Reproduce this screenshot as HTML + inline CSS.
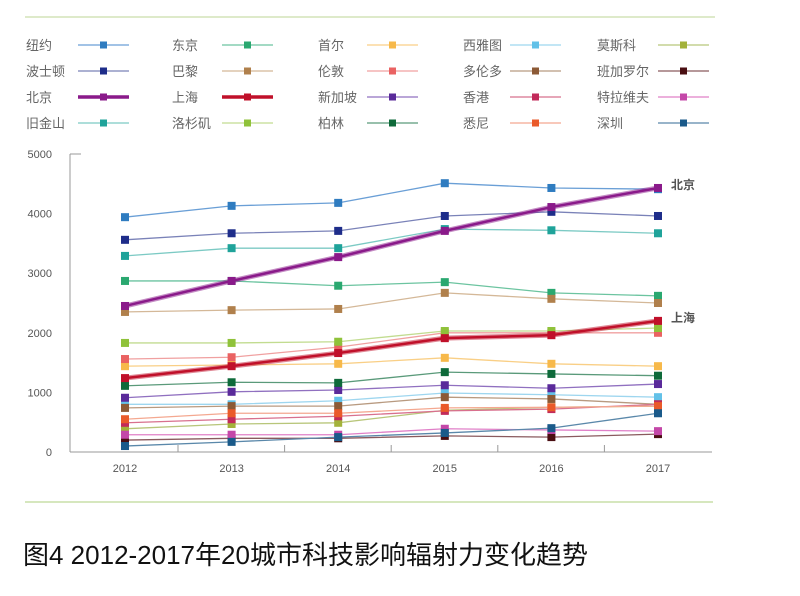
<!DOCTYPE html>
<html><head><meta charset="utf-8"><style>
body{margin:0;background:#fff;width:800px;height:596px;overflow:hidden;font-family:"Liberation Sans","Noto Sans CJK SC",sans-serif}
</style></head><body>
<svg width="800" height="596" style="position:absolute;left:0;top:0">
<line x1="25" y1="17" x2="715" y2="17" stroke="#d4e3b8" stroke-width="1.5"/>
<line x1="25" y1="502" x2="713" y2="502" stroke="#c8dfa8" stroke-width="1.5"/>
<g id="legend"></g>
<g id="axes"></g>
<g id="series"></g>
<text x="23" y="564" font-size="26" fill="#111" font-family="Liberation Sans, Noto Sans CJK SC, sans-serif">图4 2012-2017年20城市科技影响辐射力变化趋势</text>
</svg>
<script>
const years=["2012","2013","2014","2015","2016","2017"];
const yTicks=[0,1000,2000,3000,4000,5000];
const names=["纽约","东京","首尔","西雅图","莫斯科","波士顿","巴黎","伦敦","多伦多","班加罗尔","北京","上海","新加坡","香港","特拉维夫","旧金山","洛杉矶","柏林","悉尼","深圳"];
const colors=["#2f7cc0","#2aa870","#f7b94a","#62c1e8","#a3b23a","#1e2d8a","#b0804c","#ea6262","#8c5a36","#4a0e12","#8a1a8a","#c0102a","#5a2a9a","#c22a5a","#c447a8","#1fa39a","#8fc23a","#0e6a3a","#ea5a2a","#1a5a8a"];
const lineColors=["#6a9fd6","#6cc4a0","#f9cf86","#9ed6ef","#b8c67a","#7a82b8","#d4b898","#f0a0a0","#b89a80","#8a5a5e","#8a1a8a","#c0102a","#9070c0","#d8708e","#e080c8","#7ccac4","#c2dc90","#5a9a7a","#f4a890","#5a88aa"];
const v0=[3940,2870,1440,800,390,3560,2350,1560,740,200,2450,1240,910,490,290,3290,1830,1110,550,100];
const v1=[4130,2870,1460,800,470,3670,2380,1590,770,230,2870,1440,1010,550,290,3420,1830,1170,650,170];
const v2=[4180,2790,1480,860,490,3710,2400,1760,770,230,3270,1660,1040,600,290,3420,1850,1160,650,250];
const v3=[4510,2850,1580,990,700,3960,2670,2000,920,270,3710,1910,1120,690,390,3740,2030,1340,740,320];
const v4=[4430,2670,1480,960,750,4030,2570,2000,890,250,4110,1960,1070,720,370,3720,2030,1310,750,400];
const v5=[4410,2620,1440,920,770,3960,2500,2000,800,300,4430,2200,1140,800,350,3670,2080,1280,770,650];
const NS="http://www.w3.org/2000/svg";
function mk(t,a,p){const e=document.createElementNS(NS,t);for(const k in a)e.setAttribute(k,a[k]);p.appendChild(e);return e;}
const X=i=>125+i*106.6, Y=v=>452-v*0.0596;
const ax=document.getElementById('axes'),sr=document.getElementById('series'),lg=document.getElementById('legend');
let a=mk('line',{x1:70,y1:154,x2:70,y2:452,stroke:'#999','stroke-width':1},ax);


a=mk('line',{x1:70,y1:452,x2:712,y2:452,stroke:'#999','stroke-width':1},ax);


mk('line',{x1:70,y1:154,x2:81,y2:154,stroke:'#999'},ax);
yTicks.forEach(t=>{const e=mk('text',{x:52,y:Y(t)+4,'text-anchor':'end','font-size':11,fill:'#555'},ax);e.textContent=t;

});
years.forEach((y,i)=>{const e=mk('text',{x:X(i),y:472,'text-anchor':'middle','font-size':11,fill:'#555'},ax);e.textContent=y;


if(i<5)mk('line',{x1:X(i)+53,y1:452,x2:X(i)+53,y2:445,stroke:'#999'},ax);});
const vals=[v0,v1,v2,v3,v4,v5];
const order=[...Array(20).keys()].filter(i=>i!=10&&i!=11).concat([11,10]);
order.forEach(s=>{const thick=(s==10||s==11);
const pts=vals.map((v,i)=>X(i)+','+Y(v[s])).join(' ');
if(thick){const h=mk('polyline',{points:pts,fill:'none',stroke:lineColors[s],'stroke-width':5,opacity:0.5},sr);

}
const l=mk('polyline',{points:pts,fill:'none',stroke:thick?colors[s]:lineColors[s],'stroke-width':thick?2.5:1.3},sr);


vals.forEach((v,i)=>{const r=mk('rect',{x:X(i)-4,y:Y(v[s])-4,width:8,height:8,fill:colors[s]},sr);

});});
[[10,'北京'],[11,'上海']].forEach(([s,t])=>{const e=mk('text',{x:671,y:Y(v5[s])+1,'font-size':12,'font-weight':'bold',fill:'#555'},sr);e.textContent=t;

});
const colX=[26,172,318,463,597],lineX=[78,222,367,510,658],rowY=[45,71,97,123];
names.forEach((n,i)=>{const c=i%5,r=Math.floor(i/5),y=rowY[r];const thick=(i==10||i==11);
const t=mk('text',{x:colX[c],y:y+5,'font-size':13,fill:'#666'},lg);t.textContent=n;


const l=mk('line',{x1:lineX[c],y1:y,x2:lineX[c]+51,y2:y,stroke:thick?colors[i]:lineColors[i],'stroke-width':thick?3.5:1.3},lg);


const q=mk('rect',{x:lineX[c]+22,y:y-3.5,width:7,height:7,fill:colors[i]},lg);

});
</script>
</body></html>
